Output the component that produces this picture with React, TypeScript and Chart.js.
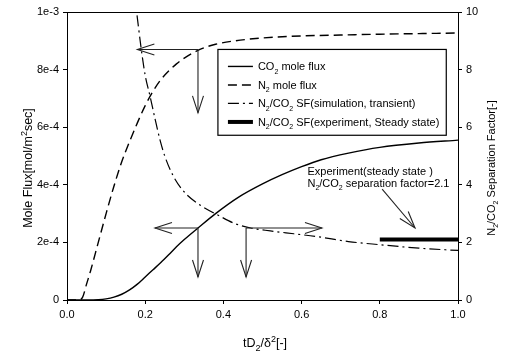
import React, { useEffect, useRef } from 'react';
import { Chart, registerables } from 'chart.js';

Chart.register(...registerables);

// ---- data ----
const co2X = [0, 0.05, 0.08, 0.1, 0.12, 0.14, 0.16, 0.18, 0.2, 0.22, 0.24, 0.26, 0.28, 0.3, 0.335, 0.38, 0.44, 0.5, 0.55, 0.6, 0.65, 0.72, 0.8, 0.9, 1.0];
const co2Flux = [0, 0, 0.01e-4, 0.04e-4, 0.1e-4, 0.2e-4, 0.35e-4, 0.55e-4, 0.8e-4, 1.05e-4, 1.3e-4, 1.57e-4, 1.85e-4, 2.1e-4, 2.5e-4, 3.0e-4, 3.58e-4, 4.03e-4, 4.35e-4, 4.63e-4, 4.87e-4, 5.1e-4, 5.3e-4, 5.45e-4, 5.55e-4];

const n2X = [0, 0.03, 0.04, 0.05, 0.06, 0.08, 0.1, 0.12, 0.14, 0.16, 0.18, 0.2, 0.22, 0.24, 0.26, 0.28, 0.3, 0.34, 0.38, 0.43, 0.5, 0.6, 0.7, 0.8, 0.9, 1.0];
const n2Flux = [0, 0, 0.1e-4, 0.55e-4, 1.0e-4, 2.0e-4, 3.0e-4, 3.95e-4, 4.8e-4, 5.5e-4, 6.15e-4, 6.75e-4, 7.25e-4, 7.65e-4, 7.95e-4, 8.2e-4, 8.4e-4, 8.7e-4, 8.88e-4, 9.0e-4, 9.1e-4, 9.17e-4, 9.2e-4, 9.23e-4, 9.25e-4, 9.27e-4];

const sfSimX = [0.172, 0.178, 0.19, 0.2, 0.212, 0.225, 0.238, 0.25, 0.272, 0.3, 0.34, 0.39, 0.43, 0.47, 0.52, 0.58, 0.64, 0.72, 0.8, 0.9, 1.0];
const sfSim = [10.6, 10.0, 8.7, 7.8, 7.1, 6.3, 5.55, 5.0, 4.3, 3.75, 3.3, 2.92, 2.65, 2.5, 2.4, 2.3, 2.2, 2.03, 1.92, 1.8, 1.72];

const sfExpX = [0.8, 1.0];
const sfExp = [2.1, 2.1];

const xTickLabels = ['0.0', '0.2', '0.4', '0.6', '0.8', '1.0'];
const leftTickLabels = ['0', '2e-4', '4e-4', '6e-4', '8e-4', '1e-3'];
const rightTickLabels = ['0', '2', '4', '6', '8', '10'];

const seriesLabels = [
  'CO₂ mole flux',
  'N₂ mole flux',
  'N₂/CO₂ SF(simulation, transient)',
  'N₂/CO₂ SF(experiment, Steady state)',
];

// annotation arrows in data units (left axis)
const arrows: [number, number, number, number][] = [
  [0.335, 8.7e-4, 0.18, 8.7e-4],
  [0.335, 8.7e-4, 0.335, 6.5e-4],
  [0.335, 2.5e-4, 0.225, 2.5e-4],
  [0.335, 2.5e-4, 0.335, 0.8e-4],
  [0.458, 2.5e-4, 0.652, 2.5e-4],
  [0.458, 2.5e-4, 0.458, 0.8e-4],
  [0.806, 3.85e-4, 0.89, 2.5e-4],
];
const noteLines = ['Experiment(steady state )', 'N₂/CO₂ separation factor=2.1'];

const FONT = "'Liberation Sans', Arial, sans-serif";

function pts(xs: number[], ys: number[]) {
  return xs.map((x, i) => ({ x, y: ys[i] }));
}

function drawRich(ctx: CanvasRenderingContext2D, text: string, x: number, y: number, size: number, align: string) {
  const segs: { kind: string; t: string }[] = [];
  for (const ch of text) {
    let kind = 'n';
    let c = ch;
    if (ch === '₂') { kind = 'sub'; c = '2'; }
    else if (ch === '²') { kind = 'sup'; c = '2'; }
    const last = segs[segs.length - 1];
    if (last && last.kind === kind) last.t += c;
    else segs.push({ kind, t: c });
  }
  const fontFor = (k: string) => `${k === 'n' ? size : Math.round(size * 0.68)}px ${FONT}`;
  let total = 0;
  for (const s of segs) { ctx.font = fontFor(s.kind); total += ctx.measureText(s.t).width; }
  let cx = align === 'center' ? x - total / 2 : align === 'right' ? x - total : x;
  ctx.textAlign = 'left';
  ctx.textBaseline = 'alphabetic';
  for (const s of segs) {
    ctx.font = fontFor(s.kind);
    const dy = s.kind === 'sub' ? size * 0.28 : s.kind === 'sup' ? -size * 0.42 : 0;
    ctx.fillText(s.t, cx, y + dy);
    cx += ctx.measureText(s.t).width;
  }
}

function drawArrow(ctx: CanvasRenderingContext2D, x1: number, y1: number, x2: number, y2: number) {
  ctx.beginPath();
  ctx.moveTo(x1, y1);
  ctx.lineTo(x2, y2);
  ctx.stroke();
  const a = Math.atan2(y2 - y1, x2 - x1);
  const L = 17, W = 5.5;
  const bx = x2 - L * Math.cos(a), by = y2 - L * Math.sin(a);
  const px = -Math.sin(a) * W, py = Math.cos(a) * W;
  ctx.beginPath();
  ctx.moveTo(bx + px, by + py);
  ctx.lineTo(x2, y2);
  ctx.lineTo(bx - px, by - py);
  ctx.stroke();
}

const decorPlugin = {
  id: 'decor',
  afterDatasetsDraw(chart: any) {
    const ctx: CanvasRenderingContext2D = chart.ctx;
    const { left, right, top } = chart.chartArea;
    const xs = chart.scales.x, ys = chart.scales.y;
    ctx.save();
    // top border
    ctx.strokeStyle = '#000';
    ctx.lineWidth = 1;
    ctx.beginPath();
    ctx.moveTo(left, top + 0.5);
    ctx.lineTo(right, top + 0.5);
    ctx.stroke();

    // arrows
    ctx.strokeStyle = '#222';
    ctx.lineWidth = 1.1;
    for (const [ax, ay, bx, by] of arrows) {
      drawArrow(ctx, xs.getPixelForValue(ax), ys.getPixelForValue(ay), xs.getPixelForValue(bx), ys.getPixelForValue(by));
    }

    // note text
    ctx.fillStyle = '#000';
    const nx = xs.getPixelForValue(0.615);
    drawRich(ctx, noteLines[0], nx, ys.getPixelForValue(4.35e-4), 11, 'left');
    drawRich(ctx, noteLines[1], nx, ys.getPixelForValue(3.93e-4), 11, 'left');

    // legend box
    const lx = xs.getPixelForValue(0.386), lr = xs.getPixelForValue(0.97);
    const ly = ys.getPixelForValue(8.7e-4), lb = ys.getPixelForValue(5.72e-4);
    ctx.fillStyle = '#fff';
    ctx.fillRect(lx, ly, lr - lx, lb - ly);
    ctx.strokeStyle = '#000';
    ctx.lineWidth = 1.2;
    ctx.strokeRect(lx, ly, lr - lx, lb - ly);
    chart.data.datasets.forEach((ds: any, i: number) => {
      const ry = ly + 17 + i * 18.5;
      ctx.strokeStyle = '#000';
      ctx.lineWidth = ds.borderWidth;
      ctx.setLineDash(ds.borderDash || []);
      ctx.beginPath();
      ctx.moveTo(lx + 10, ry);
      ctx.lineTo(lx + 35, ry);
      ctx.stroke();
      ctx.setLineDash([]);
      ctx.fillStyle = '#000';
      drawRich(ctx, ds.label, lx + 40, ry + 4, 11, 'left');
    });

    // axis titles
    ctx.fillStyle = '#000';
    ctx.save();
    ctx.translate(32, 168);
    ctx.rotate(-Math.PI / 2);
    drawRich(ctx, 'Mole Flux[mol/m²sec]', 0, 0, 12.5, 'center');
    ctx.restore();
    ctx.save();
    ctx.translate(495, 168);
    ctx.rotate(-Math.PI / 2);
    drawRich(ctx, 'N₂/CO₂ Separation Factor[-]', 0, 0, 11, 'center');
    ctx.restore();
    drawRich(ctx, 'tD₂/δ²[-]', 265, 347, 12.5, 'center');
    ctx.restore();
  },
};

export default function App() {
  const ref = useRef<HTMLCanvasElement>(null);
  useEffect(() => {
    if (!ref.current) return;
    const tickFont = { family: FONT, size: 11 };
    const chart = new Chart(ref.current, {
      type: 'line',
      data: {
        datasets: [
          { label: seriesLabels[0], data: pts(co2X, co2Flux), yAxisID: 'y', borderColor: '#000', borderWidth: 1.4, pointRadius: 0, cubicInterpolationMode: 'monotone', fill: false },
          { label: seriesLabels[1], data: pts(n2X, n2Flux), yAxisID: 'y', borderColor: '#000', borderWidth: 1.4, borderDash: [9, 5], pointRadius: 0, cubicInterpolationMode: 'monotone', fill: false },
          { label: seriesLabels[2], data: pts(sfSimX, sfSim), yAxisID: 'y1', borderColor: '#000', borderWidth: 1.2, borderDash: [11, 4, 2, 4], pointRadius: 0, cubicInterpolationMode: 'monotone', fill: false },
          { label: seriesLabels[3], data: pts(sfExpX, sfExp), yAxisID: 'y1', borderColor: '#000', borderWidth: 4, pointRadius: 0, fill: false },
        ],
      } as any,
      options: {
        responsive: false,
        animation: false,
        layout: { padding: { top: 12, left: 0, right: 0, bottom: 0 } },
        plugins: { legend: { display: false }, tooltip: { enabled: false } },
        scales: {
          x: {
            type: 'linear', min: 0, max: 1,
            ticks: { stepSize: 0.2, color: '#000', font: tickFont, padding: 4, maxRotation: 0, callback: (_v: any, i: number) => xTickLabels[i] },
            grid: { display: true, drawOnChartArea: false, drawTicks: true, tickLength: 4, color: '#000' },
            border: { display: true, color: '#000', width: 1 },
            afterFit: (s: any) => { s.height = 57; },
          },
          y: {
            type: 'linear', position: 'left', min: 0, max: 1e-3,
            ticks: { stepSize: 2e-4, color: '#000', font: tickFont, padding: 4, callback: (_v: any, i: number) => leftTickLabels[i] },
            grid: { display: true, drawOnChartArea: false, drawTicks: true, tickLength: 4, color: '#000' },
            border: { display: true, color: '#000', width: 1 },
            afterFit: (s: any) => { s.width = 67; },
          },
          y1: {
            type: 'linear', position: 'right', min: 0, max: 10,
            ticks: { stepSize: 2, color: '#000', font: tickFont, padding: 4, callback: (_v: any, i: number) => rightTickLabels[i] },
            grid: { display: true, drawOnChartArea: false, drawTicks: true, tickLength: 4, color: '#000' },
            border: { display: true, color: '#000', width: 1 },
            afterFit: (s: any) => { s.width = 49; },
          },
        },
      } as any,
      plugins: [decorPlugin],
    });
    return () => chart.destroy();
  }, []);
  return (
    <div style={{ position: 'fixed', left: 0, top: 0, width: 507, height: 357, background: '#fff' }}>
      <canvas ref={ref} width={507} height={357} style={{ display: 'block' }} />
    </div>
  );
}
